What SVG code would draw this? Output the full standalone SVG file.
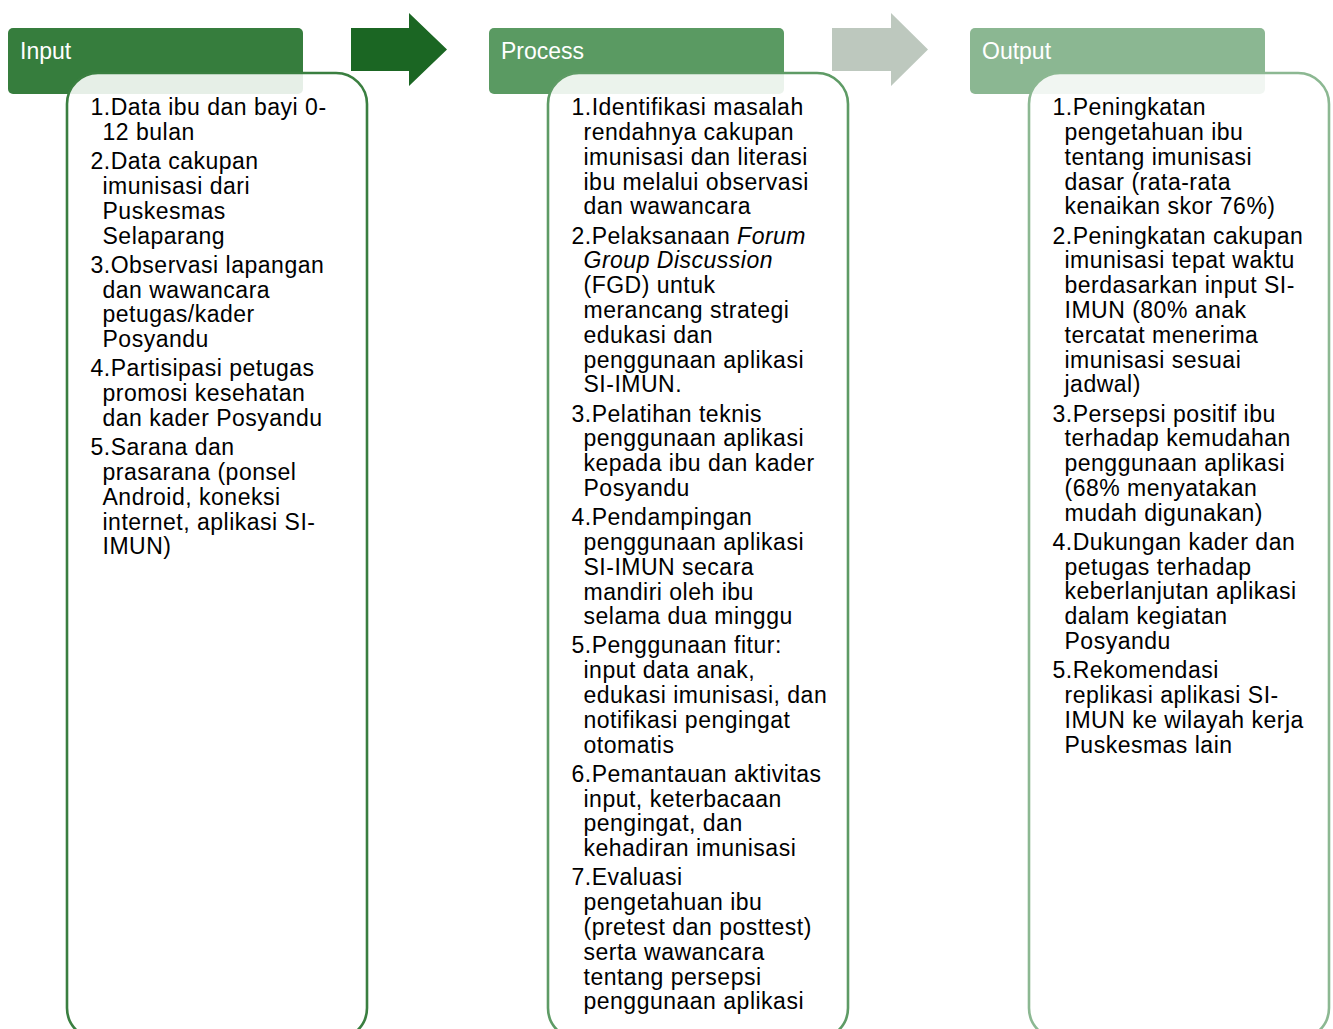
<svg xmlns="http://www.w3.org/2000/svg" width="1333" height="1029" viewBox="0 0 1333 1029">
<style>
.hdr{stroke:none}
.htxt{font-family:"Liberation Sans",Arial,sans-serif;font-size:23px;fill:#ffffff}
.box{fill:#ffffff;fill-opacity:0.88;stroke-width:2.6}
.t{font-family:"Liberation Sans",Arial,sans-serif;font-size:23px;fill:#000000;letter-spacing:0.5px}
.i{font-style:italic}
</style>
<rect width="1333" height="1029" fill="#ffffff"/>
<g id="connectors">
  <polygon points="351,28 409,28 409,13 447,49.5 409,86 409,71 351,71" fill="#1B6623"/>
  <polygon points="832,28 891,28 891,13 928,49.5 891,86 891,71 832,71" fill="#BDC8BE"/>
</g>
<g id="input">
  <rect class="hdr" x="8" y="28" width="295" height="66" rx="5" fill="#367D3D"/>
  <text class="htxt" x="20" y="59">Input</text>
  <rect class="box" x="67" y="73" width="300" height="966" rx="31" stroke="#3A7F40"/>
  <g transform="translate(2,-0.7)">
  <text class="t" x="88.5" y="116">1.Data ibu dan bayi 0-<tspan x="100.5" dy="24.8">12 bulan</tspan></text>
  <text class="t" x="88.5" y="170">2.Data cakupan<tspan x="100.5" dy="24.8">imunisasi dari</tspan><tspan x="100.5" dy="24.8">Puskesmas</tspan><tspan x="100.5" dy="24.8">Selaparang</tspan></text>
  <text class="t" x="88.5" y="273.6">3.Observasi lapangan<tspan x="100.5" dy="24.8">dan wawancara</tspan><tspan x="100.5" dy="24.8">petugas/kader</tspan><tspan x="100.5" dy="24.8">Posyandu</tspan></text>
  <text class="t" x="88.5" y="377.2">4.Partisipasi petugas<tspan x="100.5" dy="24.8">promosi kesehatan</tspan><tspan x="100.5" dy="24.8">dan kader Posyandu</tspan></text>
  <text class="t" x="88.5" y="456">5.Sarana dan<tspan x="100.5" dy="24.8">prasarana (ponsel</tspan><tspan x="100.5" dy="24.8">Android, koneksi</tspan><tspan x="100.5" dy="24.8">internet, aplikasi SI-</tspan><tspan x="100.5" dy="24.8">IMUN)</tspan></text>
  </g>
</g>
<g id="process">
  <rect class="hdr" x="489" y="28" width="295" height="66" rx="5" fill="#5A9A62"/>
  <text class="htxt" x="501" y="59">Process</text>
  <rect class="box" x="548" y="73" width="300" height="966" rx="31" stroke="#5E9B65"/>
  <g transform="translate(2,-0.7)">
  <text class="t" x="569.5" y="116">1.Identifikasi masalah<tspan x="581.5" dy="24.8">rendahnya cakupan</tspan><tspan x="581.5" dy="24.8">imunisasi dan literasi</tspan><tspan x="581.5" dy="24.8">ibu melalui observasi</tspan><tspan x="581.5" dy="24.8">dan wawancara</tspan></text>
  <text class="t" x="569.5" y="244.4">2.Pelaksanaan <tspan class="i">Forum</tspan><tspan class="i" x="581.5" dy="24.8">Group Discussion</tspan><tspan x="581.5" dy="24.8">(FGD) untuk</tspan><tspan x="581.5" dy="24.8">merancang strategi</tspan><tspan x="581.5" dy="24.8">edukasi dan</tspan><tspan x="581.5" dy="24.8">penggunaan aplikasi</tspan><tspan x="581.5" dy="24.8">SI-IMUN.</tspan></text>
  <text class="t" x="569.5" y="422.3">3.Pelatihan teknis<tspan x="581.5" dy="24.8">penggunaan aplikasi</tspan><tspan x="581.5" dy="24.8">kepada ibu dan kader</tspan><tspan x="581.5" dy="24.8">Posyandu</tspan></text>
  <text class="t" x="569.5" y="525.9">4.Pendampingan<tspan x="581.5" dy="24.8">penggunaan aplikasi</tspan><tspan x="581.5" dy="24.8">SI-IMUN secara</tspan><tspan x="581.5" dy="24.8">mandiri oleh ibu</tspan><tspan x="581.5" dy="24.8">selama dua minggu</tspan></text>
  <text class="t" x="569.5" y="654.2">5.Penggunaan fitur:<tspan x="581.5" dy="24.8">input data anak,</tspan><tspan x="581.5" dy="24.8">edukasi imunisasi, dan</tspan><tspan x="581.5" dy="24.8">notifikasi pengingat</tspan><tspan x="581.5" dy="24.8">otomatis</tspan></text>
  <text class="t" x="569.5" y="782.6">6.Pemantauan aktivitas<tspan x="581.5" dy="24.8">input, keterbacaan</tspan><tspan x="581.5" dy="24.8">pengingat, dan</tspan><tspan x="581.5" dy="24.8">kehadiran imunisasi</tspan></text>
  <text class="t" x="569.5" y="886.1">7.Evaluasi<tspan x="581.5" dy="24.8">pengetahuan ibu</tspan><tspan x="581.5" dy="24.8">(pretest dan posttest)</tspan><tspan x="581.5" dy="24.8">serta wawancara</tspan><tspan x="581.5" dy="24.8">tentang persepsi</tspan><tspan x="581.5" dy="24.8">penggunaan aplikasi</tspan></text>
  </g>
</g>
<g id="output">
  <rect class="hdr" x="970" y="28" width="295" height="66" rx="5" fill="#8BB792"/>
  <text class="htxt" x="982" y="59">Output</text>
  <rect class="box" x="1029" y="73" width="300" height="966" rx="31" stroke="#8CB892"/>
  <g transform="translate(2,-0.7)">
  <text class="t" x="1050.5" y="116">1.Peningkatan<tspan x="1062.5" dy="24.8">pengetahuan ibu</tspan><tspan x="1062.5" dy="24.8">tentang imunisasi</tspan><tspan x="1062.5" dy="24.8">dasar (rata-rata</tspan><tspan x="1062.5" dy="24.8">kenaikan skor 76%)</tspan></text>
  <text class="t" x="1050.5" y="244.4">2.Peningkatan cakupan<tspan x="1062.5" dy="24.8">imunisasi tepat waktu</tspan><tspan x="1062.5" dy="24.8">berdasarkan input SI-</tspan><tspan x="1062.5" dy="24.8">IMUN (80% anak</tspan><tspan x="1062.5" dy="24.8">tercatat menerima</tspan><tspan x="1062.5" dy="24.8">imunisasi sesuai</tspan><tspan x="1062.5" dy="24.8">jadwal)</tspan></text>
  <text class="t" x="1050.5" y="422.3">3.Persepsi positif ibu<tspan x="1062.5" dy="24.8">terhadap kemudahan</tspan><tspan x="1062.5" dy="24.8">penggunaan aplikasi</tspan><tspan x="1062.5" dy="24.8">(68% menyatakan</tspan><tspan x="1062.5" dy="24.8">mudah digunakan)</tspan></text>
  <text class="t" x="1050.5" y="550.6">4.Dukungan kader dan<tspan x="1062.5" dy="24.8">petugas terhadap</tspan><tspan x="1062.5" dy="24.8">keberlanjutan aplikasi</tspan><tspan x="1062.5" dy="24.8">dalam kegiatan</tspan><tspan x="1062.5" dy="24.8">Posyandu</tspan></text>
  <text class="t" x="1050.5" y="679">5.Rekomendasi<tspan x="1062.5" dy="24.8">replikasi aplikasi SI-</tspan><tspan x="1062.5" dy="24.8">IMUN ke wilayah kerja</tspan><tspan x="1062.5" dy="24.8">Puskesmas lain</tspan></text>
  </g>
</g>
</svg>
